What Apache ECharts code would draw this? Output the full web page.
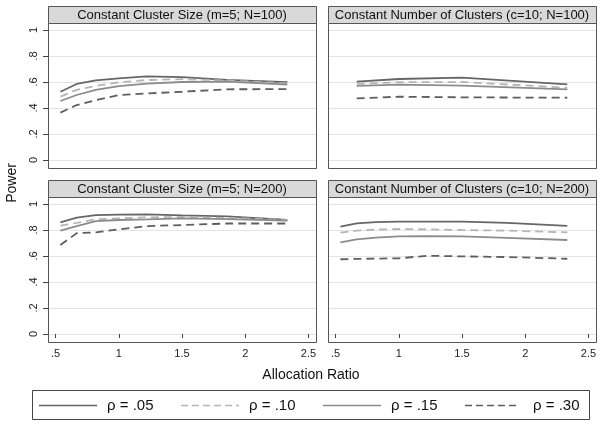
<!DOCTYPE html>
<html>
<head>
<meta charset="utf-8">
<script src="https://cdn.jsdelivr.net/npm/echarts@6/dist/echarts.min.js"></script>
<style>html,body{margin:0;padding:0;background:#fff}#c{width:602px;height:426px}</style>
</head>
<body>
<div id="c"></div>
<script>
// ---- data ----
const panelTitles = [
  'Constant Cluster Size (m=5; N=100)',
  'Constant Number of Clusters (c=10; N=100)',
  'Constant Cluster Size (m=5; N=200)',
  'Constant Number of Clusters (c=10; N=200)'
];
const seriesNames = ['ρ = .05', 'ρ = .10', 'ρ = .15', 'ρ = .30'];
const xTicks = [0.5, 1, 1.5, 2, 2.5];
const xTickLabels = ['.5', '1', '1.5', '2', '2.5'];
const yTickLabels = ['0', '.2', '.4', '.6', '.8', '1'];

const xTL = [0.538, 0.667, 0.818, 1, 1.222, 1.5, 1.857, 2.333];
const xTR = [0.667, 1, 1.5, 2.333];
const xBL = [0.538, 0.667, 0.818, 1, 1.222, 1.5, 1.857, 2.333];
const xBR = [0.538, 0.667, 0.818, 1, 1.222, 1.5, 1.857, 2.333];

const tl05 = [0.525, 0.585, 0.613, 0.628, 0.644, 0.638, 0.617, 0.598];
const tl10 = [0.487, 0.540, 0.570, 0.598, 0.615, 0.622, 0.612, 0.590];
const tl15 = [0.454, 0.500, 0.540, 0.568, 0.588, 0.600, 0.603, 0.580];
const tl30 = [0.364, 0.423, 0.460, 0.500, 0.512, 0.525, 0.544, 0.545];

const tr05 = [0.603, 0.623, 0.633, 0.582];
const tr10 = [0.585, 0.598, 0.600, 0.556];
const tr15 = [0.570, 0.580, 0.572, 0.544];
const tr30 = [0.474, 0.487, 0.482, 0.479];

const bl05 = [0.859, 0.895, 0.915, 0.918, 0.920, 0.912, 0.905, 0.877];
const bl10 = [0.833, 0.855, 0.882, 0.890, 0.897, 0.900, 0.893, 0.877];
const bl15 = [0.795, 0.830, 0.869, 0.877, 0.882, 0.890, 0.884, 0.872];
const bl30 = [0.685, 0.775, 0.782, 0.805, 0.830, 0.838, 0.850, 0.850];

const br05 = [0.826, 0.851, 0.860, 0.864, 0.865, 0.864, 0.855, 0.831];
const br10 = [0.779, 0.795, 0.803, 0.808, 0.805, 0.800, 0.795, 0.782];
const br15 = [0.705, 0.728, 0.742, 0.751, 0.752, 0.751, 0.740, 0.723];
const br30 = [0.575, 0.578, 0.580, 0.582, 0.602, 0.597, 0.592, 0.579];

// ---- chart ----
const FONT = '"Liberation Sans", Arial, Helvetica, sans-serif';
const panels = [
  {left: 48, top: 23, xs: xTL, ys: [tl05, tl10, tl15, tl30], ylab: true, xlab: false},
  {left: 328, top: 23, xs: xTR, ys: [tr05, tr10, tr15, tr30], ylab: false, xlab: false},
  {left: 48, top: 197, xs: xBL, ys: [bl05, bl10, bl15, bl30], ylab: true, xlab: true},
  {left: 328, top: 197, xs: xBR, ys: [br05, br10, br15, br30], ylab: false, xlab: true}
];
const PW = 268, PH = 145, HEAD = 17;
const styles = [
  {color: '#666666', type: 'solid', legendDash: null},
  {color: '#b5b5b5', type: [8, 5], legendDash: [7, 4]},
  {color: '#8c8c8c', type: 'solid', legendDash: null},
  {color: '#5e5e5e', type: [8, 5], legendDash: [7, 4]}
];

const grid = [], xAxis = [], yAxis = [], series = [], graphic = [];
panels.forEach((p, i) => {
  // grid: y value 1 at top+7, value 0 at top+137
  grid.push({left: p.left, top: p.top + 7, width: PW, height: 130});
  xAxis.push({
    type: 'value', gridIndex: i, min: 0.44, max: 2.56, offset: 8,
    axisLine: {show: false},
    splitLine: {show: false},
    axisTick: {show: p.xlab, length: 4, customValues: xTicks, lineStyle: {color: '#444'}},
    axisLabel: {show: p.xlab, customValues: xTicks, margin: 6, fontFamily: FONT, fontSize: 11, color: '#222',
      formatter: v => { const j = xTicks.findIndex(t => Math.abs(t - v) < 1e-6); return j >= 0 ? xTickLabels[j] : ''; }}
  });
  yAxis.push({
    type: 'value', gridIndex: i, min: 0, max: 1, interval: 0.2,
    axisLine: {show: false},
    axisTick: {show: p.ylab, length: 5, lineStyle: {color: '#444'}},
    splitLine: {show: true, lineStyle: {color: '#e4e4e4', width: 1}},
    axisLabel: {show: p.ylab, rotate: 90, margin: 9, fontFamily: FONT, fontSize: 11, color: '#222',
      formatter: v => yTickLabels[Math.round(v * 5)]}
  });
  p.ys.forEach((vals, k) => {
    series.push({
      name: seriesNames[k], type: 'line', xAxisIndex: i, yAxisIndex: i,
      data: p.xs.map((x, j) => [x, vals[j]]),
      symbol: 'none', smooth: false, z: 5,
      lineStyle: {color: styles[k].color, type: styles[k].type, width: 1.8},
      itemStyle: {color: styles[k].color}
    });
  });
  graphic.push({type: 'rect', shape: {x: p.left + 0.5, y: p.top + 0.5, width: PW, height: PH},
    style: {fill: 'none', stroke: '#555', lineWidth: 1}, z: 10});
  graphic.push({type: 'rect', shape: {x: p.left + 0.5, y: p.top - HEAD + 0.5, width: PW, height: HEAD},
    style: {fill: '#d9d9d9', stroke: '#555', lineWidth: 1}, z: 10});
  graphic.push({type: 'text', x: p.left + PW / 2, y: p.top - HEAD / 2 + 0.5, z: 11,
    style: {text: panelTitles[i], fontFamily: FONT, fontSize: 13, fill: '#111', align: 'center', verticalAlign: 'middle'}});
});

graphic.push({type: 'text', x: 12, y: 183, rotation: Math.PI / 2, z: 11,
  style: {text: 'Power', fontFamily: FONT, fontSize: 14, fill: '#111', align: 'center', verticalAlign: 'middle'}});
graphic.push({type: 'text', x: 311, y: 375, z: 11,
  style: {text: 'Allocation Ratio', fontFamily: FONT, fontSize: 14, fill: '#111', align: 'center', verticalAlign: 'middle'}});
graphic.push({type: 'rect', shape: {x: 32.5, y: 390.5, width: 557, height: 29},
  style: {fill: 'none', stroke: '#444', lineWidth: 1}, z: 10});

// legend (keys drawn as line samples + labels)
const legendLefts = [39, 181, 323, 465];
const legendLen = [58, 58, 58, 54];
seriesNames.forEach((n, k) => {
  const x0 = legendLefts[k], y0 = 405.5;
  graphic.push({type: 'line', z: 11, shape: {x1: x0, y1: y0, x2: x0 + legendLen[k], y2: y0},
    style: {stroke: styles[k].color, lineWidth: 1.5, lineDash: styles[k].legendDash}});
  graphic.push({type: 'text', z: 11, x: x0 + 68, y: y0 + 0.5,
    style: {text: n, fontFamily: FONT, fontSize: 15, fill: '#111', align: 'left', verticalAlign: 'middle'}});
});

const chart = echarts.init(document.getElementById('c'), null, {renderer: 'canvas'});
chart.setOption({
  animation: false,
  backgroundColor: '#fff',
  grid, xAxis, yAxis, series, graphic
});
</script>
</body>
</html>
